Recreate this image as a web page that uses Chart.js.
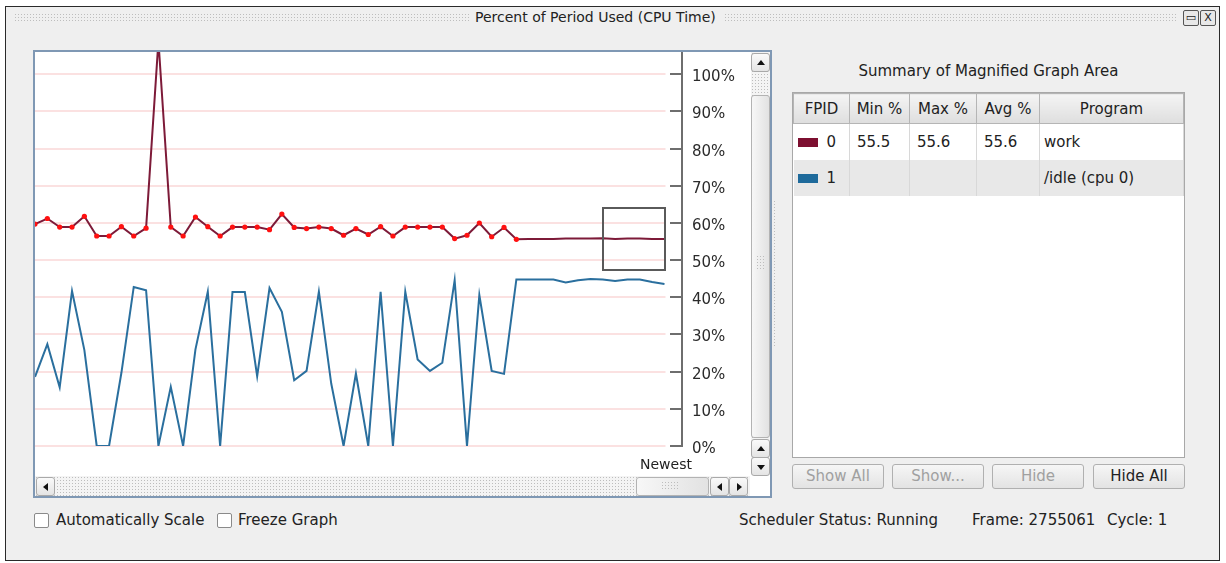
<!DOCTYPE html>
<html>
<head>
<meta charset="utf-8">
<script src="https://cdn.jsdelivr.net/npm/chart.js@4.4.1/dist/chart.umd.min.js"></script>
<style>
body{margin:0;background:#fff;font-family:"DejaVu Sans",sans-serif;color:#222;font-size:15px;}
.abs{position:absolute;box-sizing:border-box;}
#win{left:5px;top:6px;width:1215px;height:555px;border:1px solid #2a2a2a;background:#efefef;}
.grip{background-image:radial-gradient(#bdbdbd 0.7px,transparent 1px);background-size:3px 3px;}
.tbtn{width:16px;height:16px;border:1px solid #555;border-radius:2px;background:#e8e8e8;font-size:11px;line-height:14px;text-align:center;}
#frame{left:33px;top:50px;width:739px;height:448px;border:2px solid #7f98b4;background:#fff;}
.sbtn{width:19px;height:19px;border:1px solid #a9a9a9;border-radius:3px;background:linear-gradient(#fafafa,#e4e4e4);}
.up,.down,.left,.right{position:absolute;width:0;height:0;}
.up{left:5px;top:6px;border-left:4px solid transparent;border-right:4px solid transparent;border-bottom:5px solid #111;}
.down{left:5px;top:7px;border-left:4px solid transparent;border-right:4px solid transparent;border-top:5px solid #111;}
.left{left:6px;top:5px;border-top:4px solid transparent;border-bottom:4px solid transparent;border-right:5px solid #111;}
.right{left:7px;top:5px;border-top:4px solid transparent;border-bottom:4px solid transparent;border-left:5px solid #111;}
.thumb{border:1px solid #b3b3b3;border-radius:3px;background:linear-gradient(90deg,#f7f7f7,#e2e2e2);}
table{border-collapse:collapse;width:100%;}
#tbl{left:792px;top:92px;width:393px;height:366px;border:1px solid #a8a8a8;background:#fff;}
th{height:29px;font-weight:normal;background:linear-gradient(#f4f4f4,#dedede);border:1px solid #b5b5b5;padding:0;font-size:15px;}
td{border-right:1px solid #d8d8d8;padding:0 0 0 7px;height:36px;font-size:15px;}
.pbtn{width:92px;height:25px;border:1px solid #b0b0b0;border-radius:3px;background:linear-gradient(#f6f6f6,#e3e3e3);text-align:center;line-height:23px;color:#a0a0a0;}
.chk{width:15px;height:15px;border:1px solid #8a8a8a;border-radius:2px;background:#fff;}
</style>
</head>
<body>
<div id="win" class="abs"></div>
<div class="abs grip" style="left:14px;top:13px;width:456px;height:10px"></div>
<div class="abs" style="left:475px;top:9px;font-size:14px;">Percent of Period Used (CPU Time)</div>
<div class="abs grip" style="left:724px;top:13px;width:452px;height:10px"></div>
<div class="abs tbtn" style="left:1183px;top:10px;">&#9645;</div>
<div class="abs tbtn" style="left:1200px;top:10px;">X</div>

<div id="frame" class="abs"></div>
<div class="abs" style="left:35px;top:52px;width:715px;height:423px;">
  <canvas id="cpuChart" width="715" height="423"></canvas>
</div>
<div class="abs" style="left:640px;top:456px;font-size:14px;">Newest</div>

<!-- vertical scrollbar -->
<div class="abs grip" style="left:751px;top:52px;width:19px;height:423px;background-color:#f4f4f4"></div>
<div class="abs sbtn" style="left:751px;top:53px;"><i class="up"></i></div>
<div class="abs thumb" style="left:751px;top:95px;width:19px;height:343px;"></div>
<div class="abs grip" style="left:756px;top:255px;width:10px;height:14px"></div>
<div class="abs sbtn" style="left:751px;top:439px;"><i class="up"></i></div>
<div class="abs sbtn" style="left:751px;top:457px;"><i class="down"></i></div>
<!-- horizontal scrollbar -->
<div class="abs grip" style="left:35px;top:476px;width:715px;height:20px;background-color:#f4f4f4"></div>
<div class="abs sbtn" style="left:36px;top:477px;"><i class="left"></i></div>
<div class="abs thumb" style="left:636px;top:477px;width:73px;height:19px;"></div>
<div class="abs grip" style="left:661px;top:481px;width:18px;height:10px"></div>
<div class="abs sbtn" style="left:710px;top:477px;"><i class="left"></i></div>
<div class="abs sbtn" style="left:729px;top:477px;"><i class="right"></i></div>

<div class="abs grip" style="left:773px;top:200px;width:4px;height:146px"></div>

<div class="abs" style="left:792px;top:62px;width:393px;text-align:center;">Summary of Magnified Graph Area</div>
<div id="tbl" class="abs">
<table>
<tr><th style="width:55px">FPID</th><th style="width:59px">Min %</th><th style="width:66px">Max %</th><th style="width:62px">Avg %</th><th>Program</th></tr>
<tr><td style="padding-left:4px"><span style="display:inline-block;width:20px;height:9px;background:#7d0f30;margin-right:9px"></span>0</td><td>55.5</td><td>55.6</td><td>55.6</td><td style="padding-left:4px">work</td></tr>
<tr style="background:#e8e8e8"><td style="padding-left:4px"><span style="display:inline-block;width:20px;height:9px;background:#1e6a9b;margin-right:9px"></span>1</td><td></td><td></td><td></td><td style="padding-left:4px">/idle (cpu 0)</td></tr>
</table>
</div>
<div class="abs pbtn" style="left:792px;top:464px;">Show All</div>
<div class="abs pbtn" style="left:892px;top:464px;">Show...</div>
<div class="abs pbtn" style="left:992px;top:464px;">Hide</div>
<div class="abs pbtn" style="left:1093px;top:464px;color:#222;">Hide All</div>

<div class="abs chk" style="left:34px;top:513px;"></div>
<div class="abs" style="left:56px;top:511px;">Automatically Scale</div>
<div class="abs chk" style="left:217px;top:513px;"></div>
<div class="abs" style="left:238px;top:511px;">Freeze Graph</div>
<div class="abs" style="left:739px;top:511px;">Scheduler Status: Running</div>
<div class="abs" style="left:972px;top:511px;">Frame: 2755061</div>
<div class="abs" style="left:1107px;top:511px;">Cycle: 1</div>

<script>
// samples along the time axis (oldest -> newest)
const samples = [];
for (let i = 0; i < 52; i++) samples.push(i);

// FPID 0 : work
const workPct = [59.7, 61.2, 58.9, 58.9, 61.8, 56.5, 56.5, 59.0, 56.5, 58.6,
  109, 58.9, 56.5, 61.6, 59.0, 56.5, 58.9, 58.9, 58.9, 58.2,
  62.4, 58.8, 58.5, 58.9, 58.5, 56.7, 58.5, 56.9, 59.0, 56.5,
  58.9, 58.9, 58.9, 58.9, 55.8, 56.7, 60.0, 56.3, 58.8, 55.6,
  55.7, 55.7, 55.7, 55.8, 55.8, 55.8, 55.9, 55.7, 55.8, 55.8, 55.7, 55.7];

// FPID 1 : /idle (cpu 0)
const idlePct = [18.6, 27.4, 15.8, 41.7, 25.8, 0, 0, 19.7, 42.8, 41.9,
  0, 15.9, 0, 26.0, 41.5, 0, 41.4, 41.4, 18.8, 42.5,
  36.1, 17.7, 20.2, 41.5, 16.8, 0, 19.5, 0, 41.5, 0,
  41.5, 23.3, 20.2, 22.4, 44.6, 0, 40.6, 20.2, 19.4, 44.8,
  44.8, 44.8, 44.8, 44.0, 44.6, 44.9, 44.8, 44.4, 44.8, 44.8, 44.1, 43.6];

// samples that still show a marker on the work line
const markedSamples = 40;

// magnified area (x in samples, y in percent)
const magnifyX = [46, 51];
const magnifyY = [47.3, 64];

const guides = {
  id: 'guides',
  beforeDatasetsDraw(chart) {
    const {ctx, chartArea, scales: {x, y}} = chart;
    const end = x.getPixelForValue(samples[samples.length - 1]) + 1;
    ctx.save();
    ctx.lineWidth = 2;
    ctx.strokeStyle = '#fbe1e1';
    y.ticks.forEach(t => {
      const py = Math.round(y.getPixelForValue(t.value));
      ctx.beginPath(); ctx.moveTo(chartArea.left, py); ctx.lineTo(end, py); ctx.stroke();
    });
    ctx.strokeStyle = '#6e6e6e';
    y.ticks.forEach(t => {
      const py = Math.round(y.getPixelForValue(t.value));
      ctx.beginPath(); ctx.moveTo(chartArea.right - 13, py); ctx.lineTo(chartArea.right, py); ctx.stroke();
    });
    ctx.beginPath();
    ctx.moveTo(chartArea.right - 1, chartArea.top);
    ctx.lineTo(chartArea.right - 1, y.getPixelForValue(0) + 1);
    ctx.stroke();
    ctx.restore();
  },
  afterDatasetsDraw(chart) {
    const {ctx, scales: {x, y}} = chart;
    const x0 = x.getPixelForValue(magnifyX[0]), x1 = x.getPixelForValue(magnifyX[1]);
    const y0 = y.getPixelForValue(magnifyY[1]), y1 = y.getPixelForValue(magnifyY[0]);
    ctx.save();
    ctx.strokeStyle = '#5a5a5a';
    ctx.lineWidth = 2;
    ctx.strokeRect(Math.round(x0), Math.round(y0), Math.round(x1 - x0), Math.round(y1 - y0));
    ctx.restore();
  }
};

new Chart('cpuChart', {
  type: 'line',
  data: {
    labels: samples,
    datasets: [{
      label: 'work',
      data: workPct,
      borderColor: '#7d1a38',
      borderWidth: 2,
      pointRadius: samples.map(i => i < markedSamples ? 2.6 : 0),
      pointBackgroundColor: '#ff1010',
      pointBorderWidth: 0,
      tension: 0
    }, {
      label: '/idle (cpu 0)',
      data: idlePct,
      borderColor: '#2a6f9e',
      borderWidth: 2,
      pointRadius: 0,
      tension: 0
    }]
  },
  options: {
    responsive: false,
    animation: false,
    devicePixelRatio: 1,
    layout: {autoPadding: false, padding: {top: 0, left: 0, right: 0, bottom: 29}},
    plugins: {legend: {display: false}, tooltip: {enabled: false}},
    scales: {
      x: {type: 'linear', display: false, min: 0, max: 52.5},
      y: {
        position: 'right',
        min: 0, max: 106,
        grid: {display: false, drawTicks: false},
        border: {display: false},
        ticks: {
          stepSize: 10,
          includeBounds: false,
          padding: 9,
          labelOffset: 3,
          color: '#2b2b2b',
          font: {family: 'DejaVu Sans', size: 15},
          callback: v => v + '%'
        },
        afterFit(s) { s.width = 67; s.paddingTop = 0; s.paddingBottom = 0; }
      }
    }
  },
  plugins: [guides]
});
</script>
</body>
</html>
